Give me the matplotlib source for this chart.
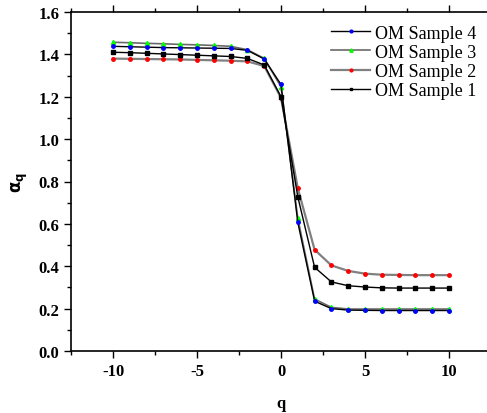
import matplotlib
matplotlib.use("Agg")
import matplotlib.pyplot as plt
from matplotlib.ticker import MultipleLocator, FormatStrFormatter

# Datos
q = list(range(-10, 11))
s4 = [1.438, 1.436, 1.434, 1.432, 1.431, 1.430, 1.429, 1.428, 1.419, 1.378, 1.258,
      0.607, 0.235, 0.200, 0.193, 0.192, 0.191, 0.191, 0.191, 0.191, 0.191]
s3 = [1.457, 1.455, 1.452, 1.450, 1.447, 1.445, 1.442, 1.438, 1.422, 1.381, 1.247,
      0.626, 0.245, 0.206, 0.198, 0.198, 0.198, 0.198, 0.198, 0.198, 0.198]
s2 = [1.380, 1.379, 1.378, 1.377, 1.376, 1.374, 1.372, 1.370, 1.367, 1.345, 1.195,
      0.768, 0.478, 0.404, 0.378, 0.365, 0.360, 0.359, 0.358, 0.358, 0.358]
s1 = [1.410, 1.408, 1.405, 1.402, 1.399, 1.396, 1.393, 1.390, 1.381, 1.350, 1.200,
      0.728, 0.395, 0.326, 0.308, 0.302, 0.298, 0.297, 0.297, 0.297, 0.297]

plt.rcParams["font.family"] = ["Liberation Serif", "DejaVu Serif"]
plt.rcParams["axes.unicode_minus"] = False

fig = plt.figure(figsize=(4.87, 4.14), dpi=100)
ax = fig.add_axes([71 / 487, 62 / 414, 420 / 487, 339 / 414])

ax.plot(q, s4, color="black", lw=1.0, marker="o", ms=2.5, mfc="blue", mec="blue", label="OM Sample 4", zorder=4)
ax.plot(q, s3, color="dimgray", lw=1.2, marker="^", ms=3, mfc="#00ff00", mec="#00ff00", label="OM Sample 3", zorder=3)
ax.plot(q, s2, color="gray", lw=1.6, marker="o", ms=2.5, mfc="red", mec="red", label="OM Sample 2", zorder=2)
ax.plot(q, s1, color="black", lw=1.0, marker="s", ms=2.5, mfc="black", mec="black", label="OM Sample 1", zorder=3)

ax.set_xlim(-12.5, 12.5)
ax.set_ylim(0, 1.6)
ax.xaxis.set_major_locator(MultipleLocator(5))
ax.xaxis.set_minor_locator(MultipleLocator(2.5))
ax.yaxis.set_major_locator(MultipleLocator(0.2))
ax.yaxis.set_minor_locator(MultipleLocator(0.1))
ax.yaxis.set_major_formatter(FormatStrFormatter("%.1f"))
ax.tick_params(which="major", direction="out", length=5, width=1, labelsize=12)
ax.tick_params(which="minor", direction="out", length=3, width=1)
ax.tick_params(top=True, which="both", labeltop=False, right=False)
for lab in ax.get_xticklabels() + ax.get_yticklabels():
    lab.set_fontweight("bold")
for sp in ax.spines.values():
    sp.set_linewidth(1.2)
ax.spines["right"].set_visible(False)

ax.set_xlabel("q", fontsize=12, fontweight="bold", labelpad=12)
ax.set_ylabel(r"$\mathbf{\alpha_q}$", fontsize=12, labelpad=6, math_fontfamily="dejavusans")

ax.legend(loc="upper right", bbox_to_anchor=(0.995, 1.0), frameon=False, fontsize=13,
          handlelength=2.2, handletextpad=0.25, labelspacing=0.12, borderaxespad=0.3,
          numpoints=1, markerscale=0.8)

fig.savefig("out.png", dpi=100)
